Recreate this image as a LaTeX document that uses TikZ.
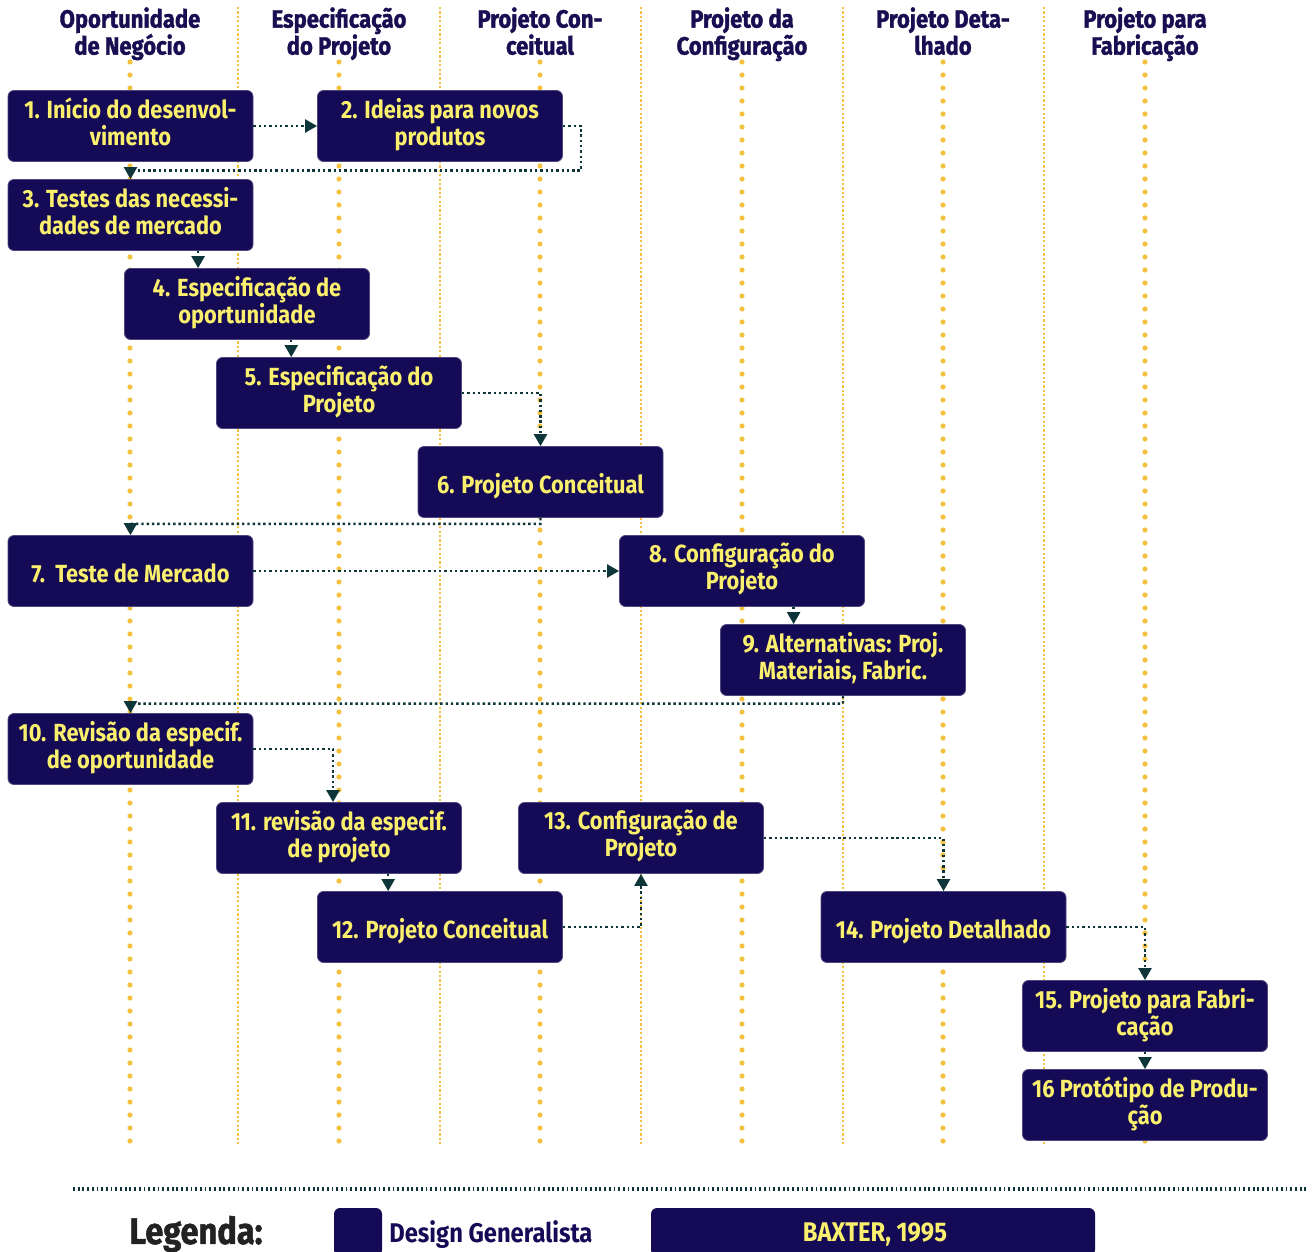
\documentclass[tikz,border=0pt]{standalone}
\usepackage{fontspec}
\setmainfont{Fira Sans}[FakeStretch=0.88]
\newfontfamily\heavyfont{Fira Sans}[FakeStretch=0.88, BoldFeatures={FakeBold=1.4}]
\usetikzlibrary{arrows.meta,calc}
\definecolor{boxnavy}{HTML}{140A55}
\definecolor{boxtext}{HTML}{FBF06E}
\definecolor{headnavy}{HTML}{170F52}
\definecolor{lanegold}{HTML}{F4C140}
\definecolor{linkteal}{HTML}{0E3539}
\definecolor{legendgray}{HTML}{222222}
% fixed top/bottom struts so every label sits on the same baselines
\newcommand{\topstrut}[1]{\rule{0pt}{#1}}
\newcommand{\botstrut}[1]{\rule[-#1]{0pt}{#1}}

\begin{document}
\begin{tikzpicture}[x=0.5pt,y=-0.5pt,
  stage/.style={draw=boxnavy!75!white, line width=0.4pt, fill=boxnavy,
    rounded corners=3pt, minimum width=122.5pt, minimum height=35.5pt,
    text=boxtext, font=\bfseries\fontsize{12.4}{13.5}\selectfont,
    align=center, inner sep=0pt,
    execute at begin node=\topstrut{15.5pt}, execute at end node=\botstrut{4.5pt}},
  phase/.style={text=headnavy, font=\heavyfont\bfseries\fontsize{12.5}{13.5}\selectfont,
    align=center, inner sep=0pt,
    execute at begin node=\topstrut{12pt}, execute at end node=\botstrut{3.5pt}},
  thicklane/.style={lanegold, line width=2.6pt, dash pattern=on 0pt off 6.5pt, line cap=round},
  thinlane/.style={lanegold, line width=1.1pt, dash pattern=on 1.1pt off 1.1pt},
  conn/.style={linkteal, line width=1.2pt, dash pattern=on 1.2pt off 1.45pt,
    -{Triangle[width=6.5pt,length=6pt]}},
  rule/.style={linkteal, line width=2pt, dash pattern=on 0.9pt off 1.45pt},
]
\useasboundingbox (0,0) rectangle (1314,1252);

% swim lanes
\foreach \x in {130,339,540,742,943,1145}
  \draw[thicklane] (\x,62) -- (\x,1142);
\foreach \x in {238,440,641,843,1044}
  \draw[thinlane] (\x,7) -- (\x,1146);

% phase headings
\node[phase] (h1) at (130,34.5) {Oportunidade\\de Negócio};
\node[phase] (h2) at (339,34.5) {Especificação\\do Projeto};
\node[phase] (h3) at (540,34.5) {Projeto Con-\\ceitual};
\node[phase] (h4) at (742,34.5) {Projeto da\\Configuração};
\node[phase] (h5) at (943,34.5) {Projeto Deta-\\lhado};
\node[phase] (h6) at (1145,34.5) {Projeto para\\Fabricação};

% process steps
\node[stage] (n1)  at (130.5,126) {1. Início do desenvol-\\vimento};
\node[stage] (n2)  at (440,126)   {2. Ideias para novos\\produtos};
\node[stage] (n3)  at (130.5,215) {3. Testes das necessi-\\dades de mercado};
\node[stage] (n4)  at (247,304)   {4. Especificação de\\oportunidade};
\node[stage] (n5)  at (339,393)   {5. Especificação do\\Projeto};
\node[stage] (n6)  at (540.5,482) {6. Projeto Conceitual};
\node[stage] (n7)  at (130.5,571) {7.\ \ Teste de Mercado};
\node[stage] (n8)  at (742,571)   {8. Configuração do\\Projeto};
\node[stage] (n9)  at (843,660)   {9. Alternativas: Proj.\\Materiais, Fabric.};
\node[stage] (n10) at (130.5,749) {10. Revisão da especif.\\de oportunidade};
\node[stage] (n11) at (339,838)   {11. revisão da especif.\\de projeto};
\node[stage] (n12) at (440,927)   {12. Projeto Conceitual};
\node[stage] (n13) at (641,838)   {13. Configuração de\\Projeto};
\node[stage] (n14) at (943.5,927) {14. Projeto Detalhado};
\node[stage] (n15) at (1145,1016) {15. Projeto para Fabri-\\cação};
\node[stage] (n16) at (1145,1105) {16 Protótipo de Produ-\\ção};

% flow
\draw[conn] (n1.east) -- (n2.west);
\coordinate (m23) at ($(n1.south)!0.5!(n3.north)$);
\draw[conn] (n2.east) -- ++(18,0) |- (m23) -- (n3.north);
\draw[conn] ($(n3.south west)!0.775!(n3.south east)$) coordinate (a34) -- (a34 |- n4.north);
\draw[conn] ($(n4.south west)!0.68!(n4.south east)$) coordinate (a45) -- (a45 |- n5.north);
\draw[conn] (n5.east) -| (n6.north);
\coordinate (m67) at ($(n6.south)!0.35!(n6.south |- n7.north)$);
\draw[conn] (n6.south) -- (m67) -| (n7.north);
\draw[conn] (n7.east) -- (n8.west);
\draw[conn] ($(n8.south west)!0.71!(n8.south east)$) coordinate (a89) -- (a89 |- n9.north);
\coordinate (m910) at ($(n9.south)!0.45!(n9.south |- n10.north)$);
\draw[conn] (n9.south) -- (m910) -| (n10.north);
\coordinate (t11) at ($(n11.north)+(-6,0)$);
\draw[conn] (n10.east) -| (t11);
\draw[conn] ($(n11.south west)!0.70!(n11.south east)$) coordinate (a1112) -- (a1112 |- n12.north);
\draw[conn] (n12.east) -| (n13.south);
\draw[conn] (n13.east) -| (n14.north);
\draw[conn] (n14.east) -| (n15.north);
\draw[conn] (n15.south) -- (n16.north);

% legend
\coordinate (r1) at (73,1189);
\coordinate (r2) at (1308,1189);
\draw[rule] (r1) -- (r2);
\node[text=legendgray, font=\heavyfont\bfseries\fontsize{18.5}{20}\selectfont, inner sep=0pt] (leg) at (196,1234) {Legenda:};
\node[fill=boxnavy, rounded corners=3pt, minimum width=24pt, minimum height=24pt, inner sep=0pt] (key) at (358,1232) {};
\node[text=boxnavy, font=\bfseries\fontsize{13.5}{15}\selectfont, anchor=west, inner sep=0pt] (keytxt) at (389,1235) {Design Generalista};
\node[fill=boxnavy, rounded corners=3pt, minimum width=222pt, minimum height=24pt, inner sep=0pt] (src) at (873,1232) {};
\node[text=boxtext, font=\bfseries\fontsize{13.5}{15}\selectfont, inner sep=0pt] (srctxt) at (875,1235) {BAXTER, 1995};
\end{tikzpicture}
\end{document}
